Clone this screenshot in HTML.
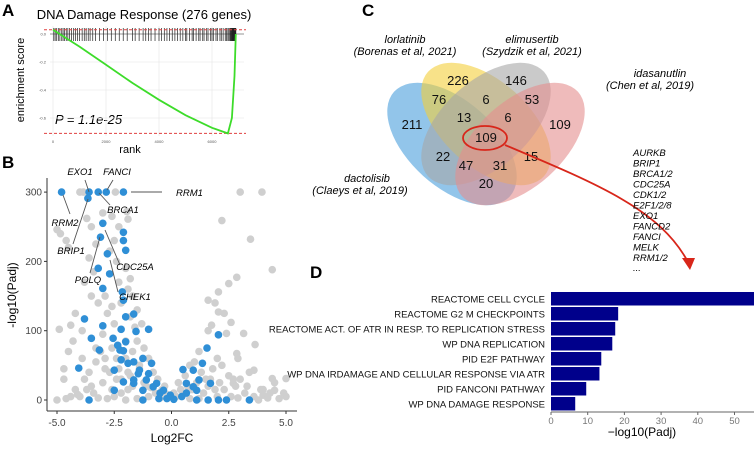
<!DOCTYPE html>
<html><head><meta charset="utf-8">
<style>
body{margin:0;background:#fff;}
svg{display:block;font-family:"Liberation Sans",Arial,sans-serif;}
</style></head>
<body>
<svg id="fig" width="754" height="455" viewBox="0 0 754 455">
<g id="panelA">
 <text x="2" y="16" font-size="17" font-weight="bold">A</text>
 <text x="144" y="19" font-size="13" text-anchor="middle">DNA Damage Response (276 genes)</text>
 <text x="130" y="153" font-size="11" text-anchor="middle">rank</text>
 <text transform="translate(24,80) rotate(-90)" font-size="11" text-anchor="middle">enrichment score</text>
 <text x="55" y="124" font-size="13" font-style="italic">P = 1.1e-25</text>
</g>
<g id="panelB">
 <text x="2" y="168" font-size="17" font-weight="bold">B</text>
 <text x="172" y="442" font-size="12" text-anchor="middle">Log2FC</text>
 <text transform="translate(16,295) rotate(-90)" font-size="12" text-anchor="middle">-log10(Padj)</text>
</g>
<g id="panelC">
 <text x="362" y="16" font-size="17" font-weight="bold">C</text>
 <g fill-opacity="0.6">
  <ellipse cx="452" cy="144" rx="78" ry="43" transform="rotate(42 452 144)" fill="#4a9edc"/>
  <ellipse cx="486" cy="124" rx="78" ry="43" transform="rotate(42 486 124)" fill="#f3cf3b"/>
  <ellipse cx="486" cy="124" rx="78" ry="43" transform="rotate(-42 486 124)" fill="#a6a6a6"/>
  <ellipse cx="520" cy="144" rx="78" ry="43" transform="rotate(-42 520 144)" fill="#e58e8e"/>
 </g>
 <g font-size="13" text-anchor="middle" fill="#111">
  <text x="458" y="85">226</text>
  <text x="516" y="85">146</text>
  <text x="439" y="104">76</text>
  <text x="486" y="104">6</text>
  <text x="532" y="104">53</text>
  <text x="412" y="129">211</text>
  <text x="464" y="122">13</text>
  <text x="508" y="122">6</text>
  <text x="560" y="129">109</text>
  <text x="486" y="142">109</text>
  <text x="443" y="161">22</text>
  <text x="466" y="170">47</text>
  <text x="500" y="170">31</text>
  <text x="531" y="161">15</text>
  <text x="486" y="188">20</text>
 </g>
 <ellipse cx="485" cy="138" rx="22" ry="12" fill="none" stroke="#d8261a" stroke-width="1.8"/>
 <path d="M505,145 C600,185 660,210 688,262" fill="none" stroke="#d8261a" stroke-width="1.8"/>
 <polygon points="682,258 695,258 690,270" fill="#d8261a"/>
 <g font-size="11" font-style="italic" text-anchor="middle">
  <text x="405" y="43">lorlatinib</text>
  <text x="405" y="55">(Borenas et al, 2021)</text>
  <text x="532" y="43">elimusertib</text>
  <text x="532" y="55">(Szydzik et al, 2021)</text>
  <text x="660" y="77">idasanutlin</text>
  <text x="650" y="89">(Chen et al, 2019)</text>
  <text x="367" y="182">dactolisib</text>
  <text x="360" y="194">(Claeys et al, 2019)</text>
 </g>
 <g font-size="9.5" font-style="italic">
  <text x="633" y="156">AURKB</text><text x="633" y="166.5">BRIP1</text><text x="633" y="177">BRCA1/2</text>
  <text x="633" y="187.5">CDC25A</text><text x="633" y="198">CDK1/2</text><text x="633" y="208.5">E2F1/2/8</text>
  <text x="633" y="219">EXO1</text><text x="633" y="229.5">FANCD2</text><text x="633" y="240">FANCI</text>
  <text x="633" y="250.5">MELK</text><text x="633" y="261">RRM1/2</text><text x="633" y="271">...</text>
 </g>
</g>
<g id="panelD">
 <text x="310" y="278" font-size="17" font-weight="bold">D</text>
 <text x="642" y="436" font-size="12" text-anchor="middle">−log10(Padj)</text>
</g>
</svg>
<script>
var NS="http://www.w3.org/2000/svg";
function mk(tag,attrs,parent){var e=document.createElementNS(NS,tag);for(var k in attrs)e.setAttribute(k,attrs[k]);parent.appendChild(e);return e;}

// ---- Panel A data ----
var gseaRanks=[0,500,1000,2000,3000,4000,5000,6000,6600,6750,6850,6900];
var gseaES=[0.03,-0.03,-0.09,-0.22,-0.35,-0.47,-0.58,-0.67,-0.71,-0.6,-0.3,0.0];
var hitRanks=[30,80,140,200,260,330,380,430,500,560,620,700,780,850,920,1000,1100,1180,1250,1330,1400,1500,1600,1750,1900,2050,2200,2350,2500,2650,2800,3000,3100,3250,3400,3500,3600,3700,3850,4000,4100,4200,4300,4400,4500,4600,4700,4800,4900,5000,5050,5150,5250,5300,5400,5500,5550,5650,5700,5800,5850,5950,6000,6050,6150,6200,6300,6350,6420,6500,6550,6600,6640,6680,6700,6720,6740,6760,6780,6800,6820,6840,6860,6880,6900];
var gseaYTicks=[0,-0.2,-0.4,-0.6];
var gseaXTicks=[0,2000,4000,6000];

// ---- Panel B data ----
var blueX=[-4.8,-3.6,-3.2,-2.85,-2.1,-3.65,-3.0,-3.1,-2.1,-2.1,-2.0,-2.8,-3.2,-2.7,-3.0,-2.15,-2.1,-1.65,-2.0,-3.8,-3.0,-1.0,-2.2,-3.5,-2.55,-3.15,-2.1,-1.55,-2.0,-2.35,-4.05,-2.5,-2.2,-1.65,-1.25,-0.87,-1.4,-1.1,-0.65,-2.5,-1.65,-1.25,-3.6,-1.25,-0.5,-0.2,0.1,0.45,0.65,1.1,1.6,2.05,2.4,3.4,1.1,0.65,0.95,1.2,0.5,0.95,1.35,1.55,2.05,1.7,-1.65,-1.45,-1.0,-0.8,-0.35,-2.1,-1.9,-2.25,-0.05,-0.55];
var blueY=[300,300,300,300,300,291,255,235,242,230,216,211,190,182,161,156,144,124,120,117,107,102,102,89,89,72,71,99,84,79,46,43,58,55,60,53,43,29,24,14,29,14,0,0,10,2,1,5,10,0,0,0,0,0,14,24,19,29,44,43,53,75,94,24,24,38,38,19,14,26,53,72,7,2];
var greyX=[-4,-3.85,-2.45,3.0,3.95,-1.95,-1.9,2.2,3.45,4.4,2.85,2.5,1.6,2.05,2.05,1.75,2.6,2.4,3.15,3.65,2.85,3.6,4.4,5.0,4.5,4.0,2.7,-5.0,-4.85,-4.6,-4.5,-3.5,-3.3,-3.7,-3.0,-2.6,-2.3,-2.5,-2.7,-2.4,-2.0,-1.8,-3.6,-3.4,-3.8,-3.5,-3.2,-2.9,-2.6,-2.3,-1.9,-1.7,-1.5,-1.3,-1.6,-2.8,-3.0,-3.9,-4.2,-4.4,-4.9,-4.5,-4.7,-4.7,-4.2,-4.0,-4.6,-5.0,-3.8,-3.3,-2.9,-2.7,-3.0,-2.4,-2.2,-1.9,-1.7,-1.5,-1.2,-1.0,-0.8,-0.6,-0.4,-0.2,0.2,0.4,0.6,0.8,1.0,1.3,1.5,1.8,2.0,2.2,2.5,2.8,3.2,3.6,4.2,4.7,5.0,1.9,1.4,2.6,3.0,3.4,1.2,1.6,2.3,1.9,-2.0,-2.5,-3.6,-3.4,-2.8,-2.0,-1.5,-1.0,-0.5,0.8,1.2,-3.9,-4.3,-1.8,-2.2,-2.0,-1.4,-2.6,-3.1,0.3,0.5,-0.7,-1.2,-1.7,-2.3,2.9,4.0,4.5,3.8,4.9,2.0,1.6,-3.7,-4.4,-3.2,-2.6,-1.9,-0.9,0.9,2.3,2.9,-2.2,-1.8,-1.4,-2.4,-2.9,-3.3,-1.1,-0.3,0.1,0.7,1.1,1.7,2.1,2.7,3.3,3.9,4.3,-4.1,-3.5,-2.5];
var greyY=[300,300,300,300,300,272,261,259,232,188,177,168,144,156,127,108,112,96,96,80,67,43,31,31,14,7,24,246,240,230,220,250,225,262,270,265,250,230,215,200,190,175,205,185,170,150,140,150,135,170,160,150,130,110,105,125,95,100,125,108,102,70,45,30,15,5,2,0,30,55,60,40,25,30,10,40,70,85,75,60,40,30,15,8,5,15,35,50,55,40,30,45,60,50,35,20,10,5,3,2,5,15,10,5,30,40,70,100,125,140,85,110,40,10,2,0,2,5,3,2,2,60,85,120,140,60,50,75,70,25,8,10,25,20,45,60,15,25,0,10,5,20,15,5,3,15,15,18,15,15,3,30,35,45,60,45,75,20,20,10,20,25,30,25,30,20,15,10,8,20,5];
var geneLabels=["EXO1","FANCI","RRM1","BRCA1","RRM2","BRIP1","CDC25A","POLQ","CHEK1"];
var volXTicks=[-5,-2.5,0,2.5,5];
var volXTickLabels=["-5.0","-2.5","0.0","2.5","5.0"];
var volYTicks=[0,100,200,300];

// ---- Panel D data ----
var pathways=["REACTOME CELL CYCLE","REACTOME G2 M CHECKPOINTS","REACTOME ACT. OF ATR IN RESP. TO REPLICATION STRESS","WP DNA REPLICATION","PID E2F PATHWAY","WP DNA IRDAMAGE AND CELLULAR RESPONSE VIA ATR","PID FANCONI PATHWAY","WP DNA DAMAGE RESPONSE"];
var pathwayScores=[57,18.3,17.5,16.7,13.7,13.2,9.6,6.6];
var barTicks=[0,10,20,30,40,50];

// ===== Panel A draw =====
(function(){
 var g=document.getElementById('panelA');
 function ax(r){return 53+r*0.0265;}
 function ay(v){return 34-v*140;}
 gseaYTicks.forEach(function(t){
  var l=mk('line',{x1:50,x2:244,y1:ay(t),y2:ay(t),stroke:'#ebebeb','stroke-width':0.8},g);
  
  
  var tx=mk('text',{x:46,y:ay(t)+1.5,'font-size':4,'text-anchor':'end',fill:'#555'},g);tx.textContent=t.toFixed(1);
  
  
 });
 gseaXTicks.forEach(function(t){
  var l=mk('line',{x1:ax(t),x2:ax(t),y1:26,y2:136,stroke:'#ebebeb','stroke-width':0.8},g);
  
  
  var tx=mk('text',{x:ax(t),y:143,'font-size':4,'text-anchor':'middle',fill:'#555'},g);tx.textContent=t;
  
  
 });
 var z=mk('line',{x1:50,x2:244,y1:ay(0),y2:ay(0),stroke:'#777','stroke-width':0.8},g);
 
 
 hitRanks.forEach(function(r){
  var l=mk('line',{x1:ax(r),x2:ax(r),y1:28,y2:41,stroke:'#222','stroke-width':0.7},g);
  
  
 });
 var mx=Math.max.apply(null,gseaES),mn=Math.min.apply(null,gseaES);
 [mx,mn].forEach(function(v){
  var l=mk('line',{x1:44,x2:246,y1:ay(v),y2:ay(v),stroke:'#e04040','stroke-width':1,'stroke-dasharray':'3,2'},g);
  
  
 });
 var d=gseaRanks.map(function(r,i){return (i?'L':'M')+ax(r).toFixed(1)+','+ay(gseaES[i]).toFixed(1);}).join(' ');
 var p=mk('path',{d:d,fill:'none',stroke:'#3ddc2a','stroke-width':1.8},g);
 
 
})();

// ===== Panel B draw =====
(function(){
 var g=document.getElementById('panelB');
 function vx(v){return 171.5+v*22.9;}
 function vy(v){return 400-v*0.693;}
 var a1=mk('line',{x1:47,x2:47,y1:178,y2:411,stroke:'#333','stroke-width':1},g);
 
 
 var a2=mk('line',{x1:47,x2:297,y1:411,y2:411,stroke:'#333','stroke-width':1},g);
 
 
 volXTicks.forEach(function(t,i){
  var l=mk('line',{x1:vx(t),x2:vx(t),y1:411,y2:414,stroke:'#333'},g);
  
  
  var tx=mk('text',{x:vx(t),y:426,'font-size':10,'text-anchor':'middle',fill:'#444'},g);tx.textContent=volXTickLabels[i];
  
  
 });
 volYTicks.forEach(function(t){
  var l=mk('line',{x1:44,x2:47,y1:vy(t),y2:vy(t),stroke:'#333'},g);
  
  
  var tx=mk('text',{x:42,y:vy(t)+3.5,'font-size':10,'text-anchor':'end',fill:'#444'},g);tx.textContent=t;
  
  
 });
 greyX.forEach(function(x,i){
  var c=mk('circle',{cx:vx(x),cy:vy(greyY[i]),r:3.8,fill:'#cfcfcf'},g);
  
  
 });
 blueX.forEach(function(x,i){
  var c=mk('circle',{cx:vx(x),cy:vy(blueY[i]),r:3.8,fill:'#2f8fd6'},g);
  
  
 });
 var lab=[[80,175,85,180,89,192],[117,175,113,180,107,190],[176,196,162,192,131,192],[123,213,110,205,99,193],[65,226,70,214,63,195],[71,254,73,244,88,199],[135,270,120,265,105,230],[88,283,90,273,100,237],[135,300,118,292,110,260]];
 geneLabels.forEach(function(n,i){
  var L=lab[i];
  var l=mk('line',{x1:L[2],y1:L[3],x2:L[4],y2:L[5],stroke:'#555','stroke-width':0.9},g);
  
  
  var t=mk('text',{x:L[0],y:L[1],'font-size':9.5,'font-style':'italic','text-anchor':n==='RRM1'?'start':'middle'},g);t.textContent=n;
  
  
 });
})();

// ===== Panel D draw =====
(function(){
 var g=document.getElementById('panelD');
 function bx(v){return 551+v*3.67;}
 function by(i){return 292+i*15;}
 pathways.forEach(function(n,i){
  var w=Math.min(bx(pathwayScores[i]),754)-551;
  var r=mk('rect',{x:551,y:by(i),width:w,height:13.5,fill:'#00008b'},g);
  
  
  var t=mk('text',{x:545,y:by(i)+10.5,'font-size':9.5,'text-anchor':'end',fill:'#111'},g);t.textContent=n;
  
  
 });
 var ax=mk('line',{x1:551,x2:754,y1:412,y2:412,stroke:'#666','stroke-width':1},g);
 
 
 barTicks.forEach(function(t){
  var l=mk('line',{x1:bx(t),x2:bx(t),y1:412,y2:415,stroke:'#666'},g);
  
  
  var tx=mk('text',{x:bx(t),y:424,'font-size':9.5,'text-anchor':'middle',fill:'#777'},g);tx.textContent=t;
  
  
 });
})();
</script>
</body></html>
